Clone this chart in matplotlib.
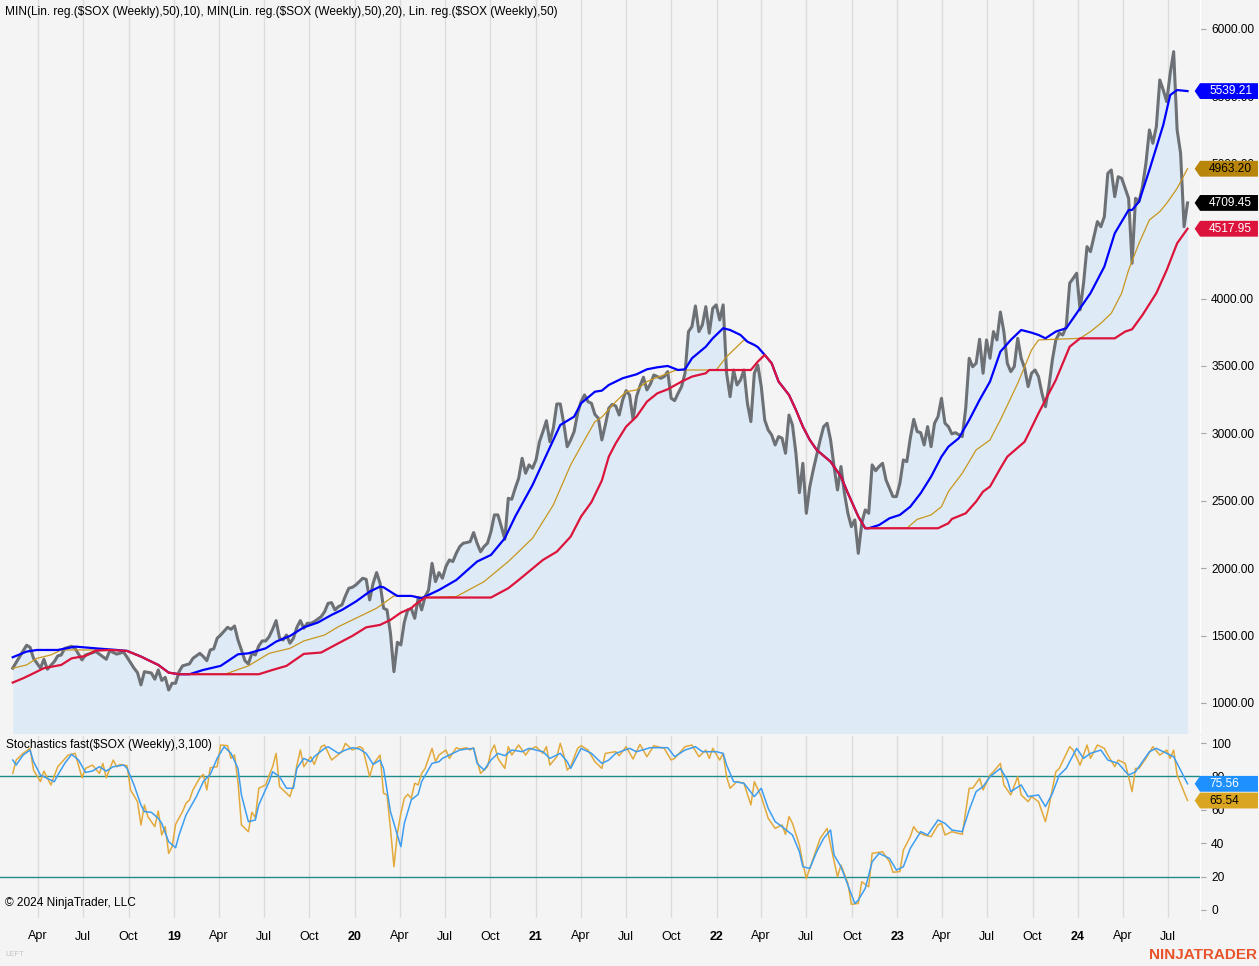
import numpy as np
import pandas as pd
import matplotlib
matplotlib.use('Agg')
import matplotlib.pyplot as plt
import matplotlib.dates as mdates
import matplotlib.transforms as mtransforms
from matplotlib.path import Path

plt.rcParams['font.family'] = ['Liberation Sans', 'DejaVu Sans']

# weekly bars, week 0 = first bar on the chart
START = pd.Timestamp('2018-02-09')

# ---------------------------------------------------------
# $SOX weekly close (week index, value)
# ---------------------------------------------------------
PRICE_WK = [0, 4, 5, 6, 8, 9, 10, 12, 13, 14, 15, 17, 18, 20, 21, 24, 27, 28, 30, 32, 33, 35, 36, 37, 38,
            40, 41, 42, 43, 44, 45, 46, 47, 48, 49, 51, 52, 54, 55, 56, 57, 58, 59, 60, 62, 63, 64, 65, 66,
            67, 68, 69, 70, 71, 72, 73, 74, 75, 76, 77, 78, 79, 80, 81, 82, 83, 84, 85, 86, 87, 89, 90, 91,
            92, 93, 94, 95, 96, 97, 98, 99, 101, 102, 103, 104, 105, 106, 107, 108, 109, 110, 111, 112, 113,
            114, 115, 116, 117, 118, 119, 120, 121, 122, 123, 124, 125, 126, 127, 128, 129, 130, 131, 132,
            133, 134, 135, 136, 137, 138, 139, 140, 141, 142, 143, 144, 145, 146, 147, 148, 149, 150, 151,
            152, 153, 154, 155, 156, 157, 158, 159, 160, 161, 162, 163, 164, 165, 166, 167, 168, 169, 170,
            171, 172, 173, 174, 175, 176, 177, 178, 179, 180, 181, 182, 183, 184, 185, 186, 187, 188, 189,
            190, 191, 192, 193, 194, 195, 196, 197, 198, 199, 200, 201, 202, 203, 204, 205, 206, 207, 208,
            209, 210, 211, 212, 213, 214, 215, 216, 217, 218, 219, 220, 221, 222, 223, 224, 225, 226, 227,
            228, 229, 230, 231, 233, 234, 235, 236, 237, 238, 239, 240, 241, 242, 243, 244, 245, 246, 247,
            248, 249, 250, 251, 252, 254, 255, 256, 257, 258, 259, 260, 261, 262, 263, 264, 265, 266, 267,
            268, 269, 270, 271, 272, 274, 275, 276, 277, 278, 279, 280, 281, 282, 283, 284, 285, 286, 287,
            288, 289, 290, 291, 292, 293, 294, 295, 296, 297, 298, 299, 300, 301, 302, 303, 304, 305, 306,
            307, 308, 309, 310, 311, 313, 314, 315, 316, 317, 318, 319, 320, 321, 322, 323, 324, 325, 326,
            327, 328, 329, 330, 331, 332, 333, 334, 335, 336, 337, 338, 339]
PRICE = [1258, 1428, 1413, 1331, 1258, 1324, 1250, 1307, 1349, 1356, 1405, 1420, 1405, 1319, 1356, 1381,
         1324, 1388, 1362, 1377, 1339, 1258, 1225, 1134, 1232, 1222, 1176, 1245, 1167, 1190, 1096, 1146,
         1146, 1232, 1275, 1290, 1331, 1368, 1344, 1314, 1393, 1401, 1480, 1504, 1561, 1546, 1571, 1467,
         1393, 1314, 1290, 1368, 1356, 1423, 1460, 1460, 1492, 1547, 1611, 1480, 1467, 1504, 1443, 1480,
         1561, 1611, 1554, 1591, 1590, 1603, 1640, 1677, 1739, 1744, 1690, 1715, 1727, 1794, 1851, 1858,
         1875, 1925, 1917, 1764, 1888, 1967, 1888, 1703, 1690, 1517, 1232, 1450, 1430, 1600, 1690, 1700,
         1628, 1777, 1690, 1789, 1838, 2036, 1900, 1967, 1925, 2012, 2061, 2049, 2111, 2160, 2185, 2190,
         2197, 2264, 2185, 2122, 2160, 2185, 2271, 2395, 2395, 2308, 2214, 2518, 2511, 2593, 2667, 2815,
         2704, 2766, 2741, 2803, 2938, 3013, 3094, 2938, 3038, 3218, 3218, 3075, 2901, 2951, 3013, 3149,
         3235, 3285, 3235, 3223, 3140, 3112, 2951, 3062, 3186, 3215, 3203, 3136, 3248, 3317, 3285, 3104,
         3272, 3351, 3416, 3322, 3366, 3433, 3421, 3409, 3421, 3458, 3260, 3243, 3297, 3347, 3446, 3755,
         3792, 3945, 3755, 3804, 3940, 3743, 3928, 3953, 3841, 3953, 3446, 3272, 3470, 3359, 3396, 3470,
         3223, 3087, 3446, 3507, 3347, 3099, 3025, 2988, 2914, 2976, 2964, 2852, 3136, 3062, 2852, 2560,
         2778, 2407, 2605, 2729, 2951, 3050, 3075, 2951, 2754, 2580, 2754, 2556, 2407, 2308, 2358, 2110,
         2333, 2432, 2407, 2766, 2723, 2754, 2778, 2654, 2531, 2531, 2630, 2803, 2790, 2964, 3104, 3013,
         3005, 2914, 3050, 2901, 3075, 3124, 3260, 3075, 3050, 2996, 3005, 2976, 3186, 3557, 3494, 3520,
         3698, 3446, 3693, 3557, 3755, 3693, 3900, 3755, 3520, 3458, 3495, 3705, 3557, 3483, 3347, 3446,
         3470, 3421, 3297, 3198, 3347, 3545, 3693, 3743, 3730, 3792, 4114, 4150, 4188, 3916, 4114, 4385,
         4348, 4571, 4533, 4608, 4929, 4954, 4756, 4904, 4892, 4818, 4744, 4262, 4744, 4719, 4830, 5004,
         5251, 5152, 5275, 5622, 5547, 5461, 5671, 5832, 5251, 5078, 4533, 4709.45]

# Lin. reg.($SOX (Weekly),50)
LINREG_WK = [0, 4, 7, 13, 18, 24, 30, 33, 37, 42, 45, 48, 51, 55, 60, 65, 68, 73, 76, 80, 84, 88, 92, 95,
             99, 103, 106, 107, 110, 111, 115, 118, 123, 128, 134, 138, 142, 145, 150, 154, 158, 162, 164,
             168, 170, 172, 176, 180, 183, 186, 189, 192, 194, 196, 200, 202, 205, 207, 210, 212, 214, 215,
             217, 219, 221, 224, 226, 228, 230, 232, 236, 239, 241, 244, 246, 247, 250, 253, 256, 259, 262,
             265, 268, 270, 273, 276, 279, 282, 285, 288, 291, 294, 296, 298, 301, 304, 307, 311, 315, 318,
             322, 323, 325, 328, 332, 334, 336, 339]
LINREG = [1339, 1381, 1393, 1393, 1418, 1405, 1393, 1386, 1344, 1282, 1225, 1213, 1213, 1245, 1275, 1361,
          1368, 1405, 1455, 1497, 1561, 1596, 1653, 1690, 1752, 1826, 1863, 1858, 1809, 1794, 1794, 1777,
          1838, 1912, 2049, 2098, 2222, 2383, 2617, 2840, 3062, 3124, 3223, 3309, 3317, 3359, 3409, 3438,
          3475, 3490, 3500, 3470, 3475, 3557, 3643, 3705, 3780, 3767, 3730, 3680, 3656, 3640, 3582, 3520,
          3384, 3285, 3174, 3050, 2951, 2877, 2790, 2679, 2556, 2383, 2296, 2296, 2320, 2370, 2395, 2456,
          2556, 2679, 2827, 2901, 2964, 3099, 3248, 3384, 3606, 3693, 3767, 3747, 3730, 3705, 3755, 3780,
          3891, 4040, 4237, 4484, 4657, 4657, 4719, 4954, 5288, 5510, 5547, 5539.21]

# MIN(Lin. reg.($SOX (Weekly),50),20)
MIN20_WK = [0, 3, 6, 9, 14, 17, 21, 24, 28, 33, 37, 42, 45, 48, 71, 75, 79, 84, 89, 94, 98, 102, 106, 109,
            112, 115, 116, 119, 138, 143, 146, 153, 157, 161, 164, 167, 170, 172, 174, 177, 180, 183, 186,
            189, 193, 196, 200, 201, 213, 215, 217, 219, 221, 224, 226, 228, 230, 232, 236, 239, 241, 244,
            246, 267, 270, 271, 275, 278, 280, 282, 285, 287, 292, 296, 301, 305, 308, 318, 321, 323, 326,
            330, 333, 336, 339]
MIN20 = [1151, 1183, 1220, 1258, 1282, 1331, 1349, 1388, 1393, 1386, 1344, 1282, 1225, 1213, 1213, 1245,
         1275, 1364, 1374, 1443, 1497, 1561, 1579, 1616, 1670, 1703, 1727, 1782, 1782, 1851, 1912, 2061,
         2122, 2234, 2383, 2490, 2650, 2827, 2926, 3050, 3124, 3235, 3297, 3327, 3384, 3421, 3446, 3470,
         3470, 3532, 3582, 3520, 3384, 3285, 3174, 3050, 2951, 2877, 2790, 2679, 2556, 2383, 2296, 2296,
         2333, 2365, 2407, 2494, 2568, 2605, 2741, 2827, 2938, 3149, 3396, 3643, 3705, 3705, 3755, 3772,
         3878, 4040, 4212, 4410, 4517.95]

# MIN(Lin. reg.($SOX (Weekly),50),10)
MIN10_WK = [0, 4, 7, 11, 14, 24, 28, 33, 37, 42, 45, 48, 61, 62, 68, 74, 80, 84, 90, 94, 99, 105, 110, 115,
            119, 128, 136, 143, 145, 150, 156, 161, 165, 168, 170, 174, 177, 180, 183, 186, 191, 192, 203,
            206, 209, 211, 212, 214, 215, 217, 219, 221, 224, 226, 228, 230, 232, 236, 239, 241, 244, 246,
            258, 261, 265, 268, 270, 274, 278, 282, 285, 290, 294, 296, 308, 311, 314, 317, 320, 322, 325,
            328, 331, 333, 336, 339]
MIN10 = [1258, 1282, 1331, 1356, 1393, 1393, 1393, 1386, 1344, 1282, 1225, 1213, 1213, 1220, 1275, 1368,
         1405, 1460, 1504, 1566, 1628, 1703, 1794, 1794, 1782, 1789, 1900, 2049, 2098, 2222, 2469, 2766,
         2951, 3087, 3120, 3235, 3309, 3322, 3384, 3416, 3465, 3470, 3470, 3569, 3643, 3693, 3680, 3656,
         3640, 3582, 3520, 3384, 3285, 3174, 3050, 2951, 2877, 2790, 2679, 2556, 2383, 2296, 2296, 2362,
         2395, 2456, 2568, 2704, 2877, 2951, 3100, 3371, 3619, 3693, 3705, 3755, 3817, 3891, 4040, 4212,
         4410, 4583, 4645, 4707, 4818, 4963.20]

# Stochastics fast($SOX (Weekly),3,100): smoothed line
STOCH_D_WK = [0, 1, 3, 5, 6, 8, 10, 12, 13, 15, 17, 19, 21, 23, 25, 27, 29, 32, 33, 35, 37, 38, 40, 42, 43,
              45, 47, 48, 50, 53, 55, 57, 59, 61, 63, 65, 66, 68, 70, 71, 74, 75, 77, 79, 81, 82, 84, 86,
              87, 90, 91, 94, 96, 98, 100, 102, 104, 106, 107, 109, 111, 112, 113, 115, 117, 118, 121, 123,
              124, 127, 129, 131, 133, 134, 136, 138, 140, 142, 144, 147, 149, 151, 153, 155, 158, 160, 161,
              164, 167, 170, 172, 174, 178, 180, 184, 189, 191, 194, 197, 199, 203, 205, 206, 208, 211, 214,
              216, 218, 220, 222, 225, 227, 228, 230, 232, 234, 236, 237, 239, 241, 243, 244, 246, 248, 250,
              253, 255, 257, 259, 262, 264, 267, 269, 271, 274, 276, 278, 280, 282, 285, 287, 288, 291, 293,
              296, 298, 300, 302, 304, 307, 309, 311, 314, 316, 319, 322, 324, 326, 328, 330, 333, 335, 339]
STOCH_D = [89.8, 86.8, 92.8, 95.8, 88.8, 80.8, 78.8, 76.8, 80.8, 87.8, 93.2, 89.8, 82.4, 83.2, 85.8, 83.2,
           85.8, 86.8, 84.8, 74.9, 62.9, 58.9, 58.5, 54.9, 51.9, 40.9, 37.3, 44.9, 56.9, 67.9, 76.9, 81.2,
           90.8, 97.8, 93.8, 84.8, 68.9, 52.9, 53.9, 62.9, 76.9, 82.8, 79.8, 72.9, 72.9, 84.8, 90.8, 88.8,
           91.8, 96.8, 97.8, 93.8, 95.8, 97.2, 96.4, 93.8, 87.2, 89.8, 84.8, 58.9, 44.9, 37.9, 51.9, 65.9,
           69.3, 76.9, 87.8, 88.8, 90.8, 93.8, 95.8, 96.4, 96.8, 87.8, 83.8, 89.8, 93.8, 92.4, 95.8, 94.8,
           96.8, 95.8, 94.8, 90.8, 93.8, 88.8, 84.8, 96.8, 93.8, 87.8, 89.8, 93.8, 96.8, 94.8, 97.2, 97.2,
           91.8, 95.8, 97.8, 94.8, 94.8, 93.8, 86.8, 76.9, 75.9, 67.9, 72.9, 60.9, 52.9, 49.9, 44.9, 34.9,
           25.9, 24.9, 34.9, 42.9, 47.9, 32.9, 25.9, 14.9, 3.9, 5.9, 12.9, 28.9, 33.9, 30.9, 23.9, 25.9,
           36.9, 46.9, 44.9, 53.9, 51.9, 47.9, 46.9, 59.9, 70.9, 73.9, 79.8, 84.8, 77.9, 70.9, 74.9, 67.9,
           68.9, 61.9, 69.8, 80.8, 84.8, 96.8, 90.8, 93.8, 95.8, 89.8, 87.8, 80.8, 82.8, 88.8, 94.8, 96.8,
           93.8, 91.8, 75.56]

# Stochastics fast: raw line
STOCH_K_WK = [0, 1, 3, 5, 6, 8, 9, 11, 13, 16, 18, 20, 21, 23, 25, 26, 27, 29, 30, 31, 33, 34, 36, 37, 38,
              39, 41, 42, 43, 44, 45, 46, 47, 49, 50, 51, 52, 54, 55, 56, 57, 59, 60, 62, 63, 64, 65, 66,
              68, 69, 70, 71, 73, 74, 75, 76, 77, 78, 80, 81, 82, 83, 84, 86, 87, 89, 90, 92, 95, 96, 98,
              100, 101, 103, 104, 106, 107, 108, 109, 110, 111, 112, 113, 114, 115, 116, 117, 118, 119, 121,
              122, 123, 125, 126, 128, 129, 131, 132, 133, 135, 137, 138, 139, 140, 142, 143, 144, 146, 148,
              149, 151, 153, 154, 155, 157, 158, 159, 160, 161, 163, 164, 166, 168, 170, 171, 174, 175, 177,
              179, 181, 183, 185, 188, 190, 191, 194, 196, 198, 200, 201, 202, 204, 205, 206, 207, 209, 211,
              213, 214, 216, 218, 220, 222, 223, 224, 225, 227, 228, 229, 231, 233, 235, 236, 238, 239, 241,
              242, 244, 245, 247, 248, 251, 253, 254, 256, 257, 259, 260, 261, 263, 265, 267, 268, 269, 271,
              274, 275, 276, 277, 279, 280, 282, 283, 285, 286, 288, 290, 291, 293, 294, 296, 298, 299, 301,
              302, 305, 306, 308, 310, 311, 313, 315, 316, 318, 319, 321, 322, 323, 324, 325, 327, 329, 331,
              333, 334, 335, 336, 339]
STOCH_K = [81.8, 89.8, 93.8, 96.8, 83.8, 76.9, 83.2, 74.9, 85.8, 92.8, 93.8, 79.2, 84.8, 86.8, 81.8, 87.8,
           79.2, 89.8, 85.8, 87.2, 86.4, 71.9, 64.9, 50.9, 62.9, 55.9, 49.9, 59.3, 44.9, 49.9, 33.9, 37.9,
           51.3, 58.9, 63.9, 65.9, 71.9, 79.2, 81.2, 71.9, 85.2, 85.8, 98.8, 98.4, 90.8, 92.8, 76.9, 50.9,
           46.9, 58.5, 55.3, 72.9, 74.9, 80.8, 85.8, 93.8, 73.9, 71.9, 67.9, 74.9, 86.8, 95.8, 85.8, 91.8,
           87.2, 97.8, 98.8, 89.8, 94.8, 99.8, 95.8, 97.8, 96.8, 79.8, 87.2, 92.8, 69.9, 68.9, 48.9, 25.9,
           45.9, 57.9, 66.9, 69.3, 66.9, 75.9, 74.9, 81.8, 84.8, 96.8, 88.8, 92.8, 95.8, 90.8, 97.2, 96.4,
           97.2, 95.8, 97.2, 81.8, 85.8, 94.8, 98.8, 90.8, 84.8, 97.8, 92.8, 98.8, 92.8, 95.8, 97.8, 93.8,
           97.8, 86.8, 91.8, 99.8, 92.8, 83.8, 85.8, 96.8, 98.4, 95.8, 88.8, 84.8, 93.8, 94.8, 92.4, 97.8,
           90.4, 99.2, 91.8, 98.4, 96.8, 89.8, 90.8, 97.8, 98.8, 91.8, 95.8, 90.8, 96.8, 89.8, 93.8, 79.8,
           72.9, 76.9, 75.9, 62.9, 76.9, 67.9, 54.9, 48.9, 50.9, 45.3, 55.9, 51.9, 38.9, 27.9, 18.9, 30.9,
           42.9, 48.9, 38.9, 19.9, 26.9, 15.9, 3.4, 3.9, 16.9, 13.9, 33.9, 34.9, 28.9, 22.6, 23.0, 35.9,
           43.9, 49.9, 46.9, 44.9, 43.9, 50.9, 51.9, 44.9, 46.9, 45.3, 58.9, 72.9, 72.9, 78.8, 71.9, 80.8,
           82.8, 87.8, 74.9, 68.9, 79.8, 68.9, 64.9, 67.9, 64.9, 52.9, 61.9, 82.8, 84.8, 97.8, 95.8, 86.8,
           98.8, 90.8, 98.8, 96.8, 92.8, 85.8, 89.8, 87.8, 79.8, 70.9, 84.8, 84.8, 90.8, 97.8, 92.8, 95.8,
           90.8, 95.8, 80.8, 65.54]

MAIN_TICKS = [1000, 1500, 2000, 2500, 3000, 3500, 4000, 4500, 5000, 5500, 6000]
STOCH_TICKS = [0, 20, 40, 60, 80, 100]
STOCH_LEVELS = [20, 80]

HEADER = 'MIN(Lin. reg.($SOX (Weekly),50),10), MIN(Lin. reg.($SOX (Weekly),50),20), Lin. reg.($SOX (Weekly),50)'
STOCH_TITLE = 'Stochastics fast($SOX (Weekly),3,100)'

BG = '#f4f4f4'
FILL = '#deebf6'
GRID = '#dcdcdc'


def to_dates(weeks):
    return START + pd.to_timedelta(np.asarray(weeks) * 7, unit='D')


def flag_box(x0, y0, width, height, mutation_size):
    """Left-pointing value flag, fixed width, like the platform's last-value markers."""
    pad_l, pad_y = 0.75 * mutation_size, 0.16 * mutation_size
    tip = 0.45 * mutation_size
    left, right = x0 - pad_l, x0 + 4.1 * mutation_size
    bottom, top = y0 - pad_y, y0 + height + pad_y
    mid = (bottom + top) / 2
    verts = [(left - tip, mid), (left, bottom), (right, bottom), (right, top), (left, top), (left - tip, mid)]
    codes = [Path.MOVETO] + [Path.LINETO] * 4 + [Path.CLOSEPOLY]
    return Path(verts, codes)


def add_flag(ax, value, text, face, color):
    trans = mtransforms.blended_transform_factory(ax.transAxes, ax.transData)
    ax.text(1.0075, value, text, transform=trans, ha='left', va='center', fontsize=8.6,
            color=color, clip_on=False, zorder=10,
            bbox=dict(boxstyle=flag_box, facecolor=face, edgecolor='none'))


fig = plt.figure(figsize=(12.59, 9.66), dpi=100, facecolor=BG)
W, H = 1259.0, 966.0
ax = fig.add_axes([0, 1 - 733 / H, 1200 / W, 733 / H], facecolor=BG)
ax2 = fig.add_axes([0, 1 - 918 / H, 1200 / W, 182 / H], facecolor=BG, sharex=ax)

x_left = START - pd.Timedelta(days=3.67 * 7)
x_right = START + pd.Timedelta(days=342.6 * 7)

# ---- main panel ----
pd_dates = to_dates(PRICE_WK)
ax.fill_between(pd_dates, PRICE, 0, color=FILL, lw=0, zorder=1)
ax.plot(pd_dates, PRICE, color='#6d7175', lw=2.2, zorder=2, solid_joinstyle='round')
ax.plot(to_dates(MIN10_WK), MIN10, color='#c8961e', lw=0.9, zorder=3)
ax.plot(to_dates(LINREG_WK), LINREG, color='#0000ff', lw=1.6, zorder=4)
ax.plot(to_dates(MIN20_WK), MIN20, color='#dc143c', lw=1.6, zorder=5)

ax.set_ylim(777, 6215)
ax.set_xlim(x_left, x_right)
ax.set_yticks(MAIN_TICKS)
ax.set_yticklabels([f'{t:.2f}' for t in MAIN_TICKS])

add_flag(ax, LINREG[-1], f'{LINREG[-1]:.2f}', '#0000ff', 'white')
add_flag(ax, MIN10[-1], f'{MIN10[-1]:.2f}', '#b8860b', 'black')
add_flag(ax, PRICE[-1], f'{PRICE[-1]:.2f}', 'black', 'white')
add_flag(ax, MIN20[-1], f'{MIN20[-1]:.2f}', '#dc143c', 'white')

# ---- stochastics panel ----
for lvl in STOCH_LEVELS:
    ax2.axhline(lvl, color='#1f8a8a', lw=1, zorder=2)
ax2.plot(to_dates(STOCH_K_WK), STOCH_K, color='#e2a93b', lw=1.1, zorder=3)
ax2.plot(to_dates(STOCH_D_WK), STOCH_D, color='#3d9df0', lw=1.1, zorder=4)
ax2.set_ylim(-4.8, 104.2)
ax2.set_yticks(STOCH_TICKS)
ax2.set_yticklabels([str(t) for t in STOCH_TICKS])

add_flag(ax2, STOCH_D[-1], f'{STOCH_D[-1]:.2f}', '#1e90ff', 'white')
add_flag(ax2, STOCH_K[-1], f'{STOCH_K[-1]:.2f}', '#daa520', 'black')

for a in (ax, ax2):
    a.yaxis.tick_right()
    a.tick_params(axis='y', length=4, color='#a8a8a8', labelsize=8.6, pad=4, labelcolor='black')
    a.grid(axis='x', color=GRID, lw=1, zorder=0)
    a.set_axisbelow(True)
    for s in a.spines.values():
        s.set_visible(False)
    a.spines['right'].set_visible(True)
    a.spines['right'].set_color('white')

ax.tick_params(axis='x', length=0, labelbottom=False)


def quarter_label(v, pos):
    d = mdates.num2date(v)
    return d.strftime('%y') if d.month == 1 else d.strftime('%b')


ax2.xaxis.set_major_locator(mdates.MonthLocator(bymonth=[1, 4, 7, 10]))
ax2.xaxis.set_major_formatter(plt.FuncFormatter(quarter_label))
ax2.tick_params(axis='x', length=0, labelsize=9, pad=9)
fig.canvas.draw()
for lab in ax2.get_xticklabels():
    if lab.get_text().isdigit():
        lab.set_fontweight('bold')

# ---- texts ----
fig.text(5 / W, 1 - 12 / H, HEADER, fontsize=8.6, va='center', ha='left', color='black')
fig.text(6 / W, 1 - 745 / H, STOCH_TITLE, fontsize=8.6, va='center', ha='left', color='black')
fig.text(5 / W, 1 - 903 / H, '\u00a9 2024 NinjaTrader, LLC', fontsize=8.6, va='center', ha='left', color='black')
fig.text(5 / W, 1 - 955 / H, 'LEFT', fontsize=5.5, va='center', ha='left', color='#c4c4c4')
fig.text(1257 / W, 1 - 955 / H, 'NINJATRADER', fontsize=11, fontweight='bold', va='center', ha='right',
         color='#e8532b')

fig.savefig('out.png', dpi=100, facecolor=BG)
